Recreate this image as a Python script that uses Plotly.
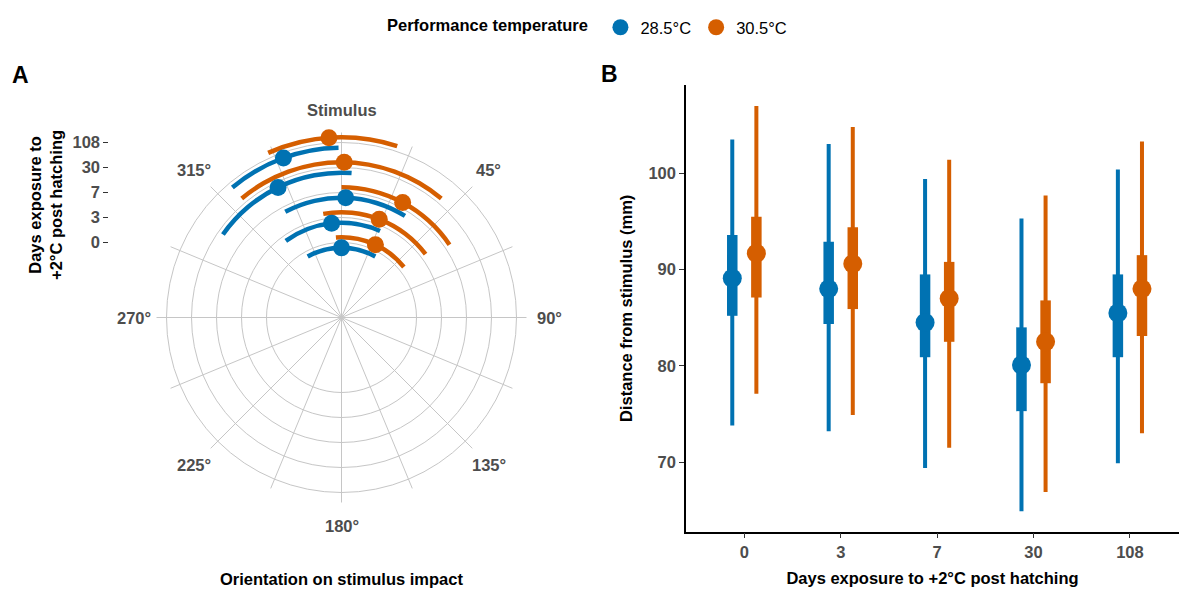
import numpy as np
import plotly.graph_objects as go

W, H = 1179, 590
FONT = "Liberation Sans, Arial, Helvetica, sans-serif"

# ---------------- data ----------------
days = ['0', '3', '7', '30', '108']
temps = ['28.5°C', '30.5°C']
colors = ['#0072B2', '#D55E00']

# Panel A: orientation on stimulus impact (degrees, 0 = stimulus)
orient_mean_285 = [0, -6, 2, -26, -20]
orient_lo_285 = [-29, -36, -28, -55, -40]
orient_hi_285 = [29, 24, 32, 4, -1]
orient_mean_305 = [25, 21, 28, 1, -4]
orient_lo_305 = [-4, -10, 0, -40, -24]
orient_hi_305 = [51, 53, 56, 40, 18]

# Panel B: distance from stimulus (mm)
dist_mean_285 = [89.1, 88.0, 84.5, 80.1, 85.5]
dist_q1_285 = [85.2, 84.35, 80.9, 75.3, 80.9]
dist_q3_285 = [93.6, 92.9, 89.5, 84.0, 89.5]
dist_lo_285 = [73.8, 73.2, 69.4, 64.9, 69.9]
dist_hi_285 = [103.5, 103.05, 99.4, 95.3, 100.4]

dist_mean_305 = [91.7, 90.6, 87.0, 82.5, 88.0]
dist_q1_305 = [87.1, 85.9, 82.5, 78.2, 83.1]
dist_q3_305 = [95.5, 94.4, 90.8, 86.8, 91.5]
dist_lo_305 = [77.1, 74.9, 71.5, 66.9, 73.0]
dist_hi_305 = [107.0, 104.8, 101.4, 97.7, 103.3]

angle_grid = list(np.arange(0, 360, 22.5))
angle_label_vals = [0, 45, 90, 135, 180, 225, 270, 315]
angle_label_text = ['Stimulus', '45°', '90°', '135°', '180°', '225°', '270°', '315°']

# ---------------- figure ----------------
fig = go.Figure()

idx = np.arange(len(days))
polar_dodge = [-0.21, 0.21]
bar_dodge = [-0.125, 0.125]
arc_thick = 0.18

orient = [
    (orient_mean_285, orient_lo_285, orient_hi_285),
    (orient_mean_305, orient_lo_305, orient_hi_305),
]
dist = [
    (dist_mean_285, dist_q1_285, dist_q3_285, dist_lo_285, dist_hi_285),
    (dist_mean_305, dist_q1_305, dist_q3_305, dist_lo_305, dist_hi_305),
]

# Panel A traces
for k, t in enumerate(temps):
    m, lo, hi = (np.array(v, dtype=float) for v in orient[k])
    r = idx + 3 + polar_dodge[k]
    fig.add_trace(go.Barpolar(
        r=[arc_thick] * len(days), base=r - arc_thick / 2,
        theta=(lo + hi) / 2, width=hi - lo,
        marker=dict(color=colors[k], line=dict(width=0)),
        showlegend=False, hoverinfo='skip'))
for k, t in enumerate(temps):
    m, lo, hi = (np.array(v, dtype=float) for v in orient[k])
    r = idx + 3 + polar_dodge[k]
    fig.add_trace(go.Scatterpolar(
        r=r, theta=m, mode='markers',
        marker=dict(size=17, color=colors[k]),
        showlegend=False, hoverinfo='skip'))

# Panel B traces
for k, t in enumerate(temps):
    m, q1, q3, lo, hi = (np.array(v, dtype=float) for v in dist[k])
    x = idx + bar_dodge[k]
    fig.add_trace(go.Scatter(
        x=x, y=m, mode='markers', marker=dict(size=2, opacity=0),
        error_y=dict(type='data', symmetric=False, array=hi - m, arrayminus=m - lo,
                     thickness=4, width=0, color=colors[k]),
        showlegend=False, hoverinfo='skip', xaxis='x', yaxis='y'))
    fig.add_trace(go.Scatter(
        x=x, y=m, mode='markers', marker=dict(size=2, opacity=0),
        error_y=dict(type='data', symmetric=False, array=q3 - m, arrayminus=m - q1,
                     thickness=10.5, width=0, color=colors[k]),
        showlegend=False, hoverinfo='skip', xaxis='x', yaxis='y'))
    fig.add_trace(go.Scatter(
        x=x, y=m, mode='markers', name=t,
        marker=dict(size=19, color=colors[k]),
        showlegend=True, hoverinfo='skip', xaxis='x', yaxis='y'))

# helper (empty) trace so the radial label axis renders
fig.add_trace(go.Scatter(x=[], y=[], xaxis='x3', yaxis='y3', showlegend=False, hoverinfo='skip'))

FS = 16.5
tick_font = dict(family=FONT, size=FS, color='#4d4d4d', weight='bold')
title_font = dict(family=FONT, size=FS, color='black', weight='bold')
grid_col = '#c6c6c6'

# polar geometry (pixels)
cx, cy, R = 341.5, 317.5, 185.0
label_r = 208.0

annotations = [
    dict(text='A', x=10 / W, y=1 - 75 / H, xref='paper', yref='paper', xanchor='left',
         yanchor='middle', showarrow=False, font=dict(family=FONT, size=23, color='black', weight='bold')),
    dict(text='B', x=599 / W, y=1 - 74 / H, xref='paper', yref='paper', xanchor='left',
         yanchor='middle', showarrow=False, font=dict(family=FONT, size=23, color='black', weight='bold')),
    dict(text='Days exposure to<br>+2°C post hatching', x=46 / W, y=1 - 205 / H,
         xref='paper', yref='paper', xanchor='center', yanchor='middle', textangle=-90,
         showarrow=False, font=title_font),
    dict(text='Orientation on stimulus impact', x=341.5 / W, y=1 - 579 / H,
         xref='paper', yref='paper', xanchor='center', yanchor='middle',
         showarrow=False, font=title_font),
]
for a, txt in zip(angle_label_vals, angle_label_text):
    ar = np.deg2rad(a)
    px = cx + label_r * np.sin(ar)
    py = cy - label_r * np.cos(ar)
    annotations.append(dict(text=txt, x=px / W, y=1 - py / H, xref='paper', yref='paper',
                            xanchor='center', yanchor='middle', showarrow=False, font=tick_font))

fig.update_layout(
    width=W, height=H,
    margin=dict(l=0, r=0, t=0, b=0),
    paper_bgcolor='white', plot_bgcolor='white',
    font=dict(family=FONT, size=FS, color='black'),
    polar=dict(
        domain=dict(x=[(cx - R) / W, (cx + R) / W], y=[1 - (cy + R) / H, 1 - (cy - R) / H]),
        bgcolor='white', barmode='overlay', hole=0,
        radialaxis=dict(range=[0, 7.4], tickvals=[3, 4, 5, 6, 7], showticklabels=False,
                        ticks='', showline=False, gridcolor=grid_col, gridwidth=1),
        angularaxis=dict(rotation=90, direction='clockwise', tickvals=angle_grid,
                         showticklabels=False, showline=False, ticks='',
                         gridcolor=grid_col, gridwidth=1),
    ),
    xaxis=dict(domain=[686 / W, 1.0], range=[-0.605, 4.509], tickvals=list(idx), ticktext=days,
               showline=True, linecolor='black', linewidth=1.5, ticks='outside', ticklen=5,
               tickcolor='#333333', showgrid=False, zeroline=False, tickfont=tick_font,
               title=dict(text='Days exposure to +2°C post hatching', font=title_font, standoff=12),
               automargin=False, anchor='y'),
    yaxis=dict(domain=[1 - 531.7 / H, 1 - 85 / H], range=[62.78, 109.17],
               tickvals=[70, 80, 90, 100], showline=True, linecolor='black', linewidth=1.5,
               ticks='outside', ticklen=5, tickcolor='#333333', showgrid=False, zeroline=False,
               tickfont=tick_font,
               title=dict(text='Distance from stimulus (mm)', font=title_font, standoff=12),
               automargin=False, anchor='x'),
    xaxis3=dict(domain=[109.3 / W, 120 / W], visible=False, range=[0, 1], anchor='y3'),
    yaxis3=dict(domain=[1 - (cy + R) / H, 1 - (cy - R) / H], range=[-7.4, 7.4], anchor='x3',
                tickvals=[3, 4, 5, 6, 7], ticktext=days, ticks='outside', ticklen=5,
                tickcolor='#333333', showline=False, showgrid=False, zeroline=False,
                tickfont=tick_font, automargin=False),
    legend=dict(orientation='h', x=385 / W, xanchor='left', y=1 - 27.5 / H, yanchor='middle',
                title=dict(text='Performance temperature ', side='left', font=title_font),
                font=dict(family=FONT, size=FS, color='black'), bgcolor='rgba(0,0,0,0)',
                traceorder='normal'),
    annotations=annotations,
)

fig.write_html("out.html")
